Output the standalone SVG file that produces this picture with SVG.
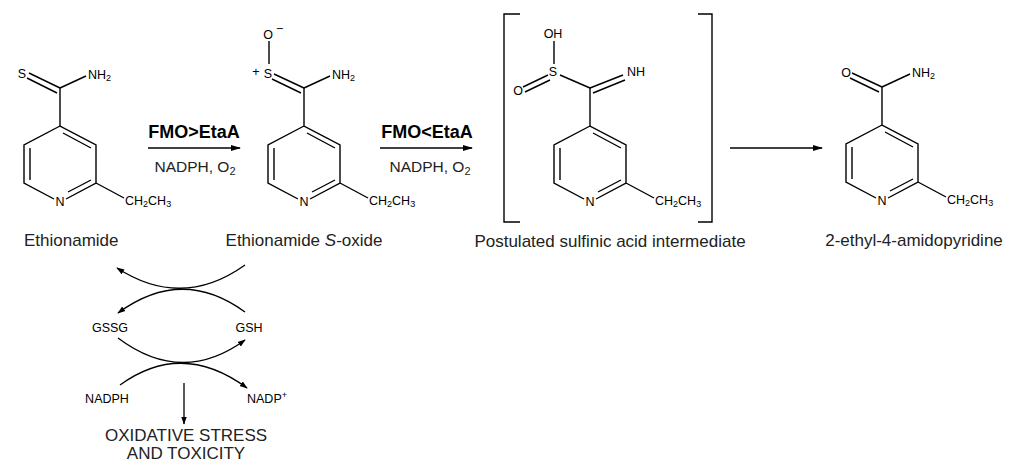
<svg xmlns="http://www.w3.org/2000/svg" xmlns:xlink="http://www.w3.org/1999/xlink" width="1024" height="468" viewBox="0 0 1024 468">
<style>
.b{stroke:#000;stroke-width:1.4;fill:none}
.a{font-family:"Liberation Sans",Arial,sans-serif;font-size:12.5px;fill:#000}
.l{font-family:"Liberation Sans",Arial,sans-serif;font-size:17px;fill:#222}
.r{font-family:"Liberation Sans",Arial,sans-serif;font-size:15.5px;fill:#222}
.k{font-family:"Liberation Sans",Arial,sans-serif;font-size:18px;font-weight:bold;fill:#000}
.c{stroke:#000;stroke-width:1.3;fill:none}
</style>
<defs>
<marker id="ah" viewBox="0 0 10 10" refX="9" refY="5" markerWidth="8" markerHeight="8" markerUnits="userSpaceOnUse" orient="auto"><path d="M0,1.5 L10,5 L0,8.5 Z" fill="#000"/></marker>
<marker id="ah2" viewBox="0 0 10 10" refX="9" refY="5" markerWidth="10" markerHeight="10" markerUnits="userSpaceOnUse" orient="auto"><path d="M0,2 L10,5 L0,8 Z" fill="#000"/></marker>
<g id="ring">
<path class="b" d="M0,-76 L0,-38 L36,-19 L36,19 L6,35 M-6,35 L-36,19 L-36,-19 L0,-38 M3,-31 L31,-16 M31,16 L8,28 M-30,-16 L-30,16 M36,19 L64,34"/>
<text class="a" x="0" y="42" text-anchor="middle">N</text>
<text class="a" x="65" y="41">CH<tspan font-size="9" dy="2">2</tspan><tspan dy="-2">CH</tspan><tspan font-size="9" dy="2">3</tspan></text>
</g>
</defs>
<g id="ethionamide">
<use xlink:href="#ring" href="#ring" x="60" y="164"/>
<path class="b" d="M60,88 L29,73 M57,93 L27,78 M60,88 L86,76"/>
<text class="a" x="22" y="78" text-anchor="middle">S</text>
<text class="a" x="88" y="79">NH<tspan font-size="9" dy="2">2</tspan></text>
<text class="l" x="24" y="246">Ethionamide</text>
</g>
<g id="soxide">
<use xlink:href="#ring" href="#ring" x="304" y="164"/>
<path class="b" d="M304,88 L274,74 M301,93 L272,79 M304,88 L330,76 M269,41 L269,64"/>
<text class="a" x="268" y="78" text-anchor="middle">S</text>
<text class="a" x="256" y="76" text-anchor="middle">+</text>
<text class="a" x="268" y="39" text-anchor="middle">O</text>
<text class="a" x="276" y="33" font-size="11">−</text>
<text class="a" x="332" y="79">NH<tspan font-size="9" dy="2">2</tspan></text>
<text class="l" x="304" y="246" text-anchor="middle">Ethionamide <tspan font-style="italic">S</tspan>-oxide</text>
</g>
<g id="sulfinic">
<use xlink:href="#ring" href="#ring" x="590" y="164"/>
<path class="b" d="M590,88 L560,75 M590,88 L623,75 M593,93 L625,80 M554,41 L554,64 M548,75 L523,87 M550,80 L525,92"/>
<text class="a" x="553" y="76" text-anchor="middle">S</text>
<text class="a" x="553" y="38" text-anchor="middle">OH</text>
<text class="a" x="518" y="95" text-anchor="middle">O</text>
<text class="a" x="627" y="76">NH</text>
<path class="b" d="M520,14 L504,14 L504,222 L520,222 M698,14 L712,14 L712,222 L698,222"/>
<text class="l" x="610" y="247" text-anchor="middle">Postulated sulfinic acid intermediate</text>
</g>
<g id="amide">
<use xlink:href="#ring" href="#ring" x="882" y="163"/>
<path class="b" d="M882,87 L852,73 M879,92 L850,78 M882,87 L910,74"/>
<text class="a" x="846" y="77" text-anchor="middle">O</text>
<text class="a" x="912" y="77">NH<tspan font-size="9" dy="2">2</tspan></text>
<text class="l" x="914" y="246" text-anchor="middle">2-ethyl-4-amidopyridine</text>
</g>
<g id="cycle">
<text class="a" x="110" y="332" text-anchor="middle">GSSG</text>
<text class="a" x="249" y="332" text-anchor="middle">GSH</text>
<text class="a" x="107" y="403" text-anchor="middle">NADPH</text>
<text class="a" x="247" y="403">NADP<tspan font-size="9" dy="-5">+</tspan></text>
<text class="l" x="186" y="441" text-anchor="middle">OXIDATIVE STRESS</text>
<text class="l" x="186" y="459" text-anchor="middle">AND TOXICITY</text>
</g>
<g id="connectors">
<path class="c" d="M148,148 L240,148" marker-end="url(#ah2)"/>
<path class="c" d="M380,148 L472,148" marker-end="url(#ah2)"/>
<path class="c" d="M730,148 L822,148" marker-end="url(#ah2)"/>
<path class="c" d="M245,265 Q182,310 117,268" marker-end="url(#ah)"/>
<path class="c" d="M245,312 Q182,266 118,313" marker-end="url(#ah)"/>
<path class="c" d="M118,338 Q182,386 245,340" marker-end="url(#ah)"/>
<path class="c" d="M120,385 Q182,340 247,388" marker-end="url(#ah)"/>
<path class="c" d="M184,383 L184,424" marker-end="url(#ah)"/>
</g>
<g id="labels">
<text class="k" x="194" y="138" text-anchor="middle">FMO&gt;EtaA</text>
<text class="r" x="195" y="172" text-anchor="middle">NADPH, O<tspan font-size="11" dy="3">2</tspan></text>
<text class="k" x="427" y="138" text-anchor="middle">FMO&lt;EtaA</text>
<text class="r" x="430" y="172" text-anchor="middle">NADPH, O<tspan font-size="11" dy="3">2</tspan></text>
</g>
</svg>
